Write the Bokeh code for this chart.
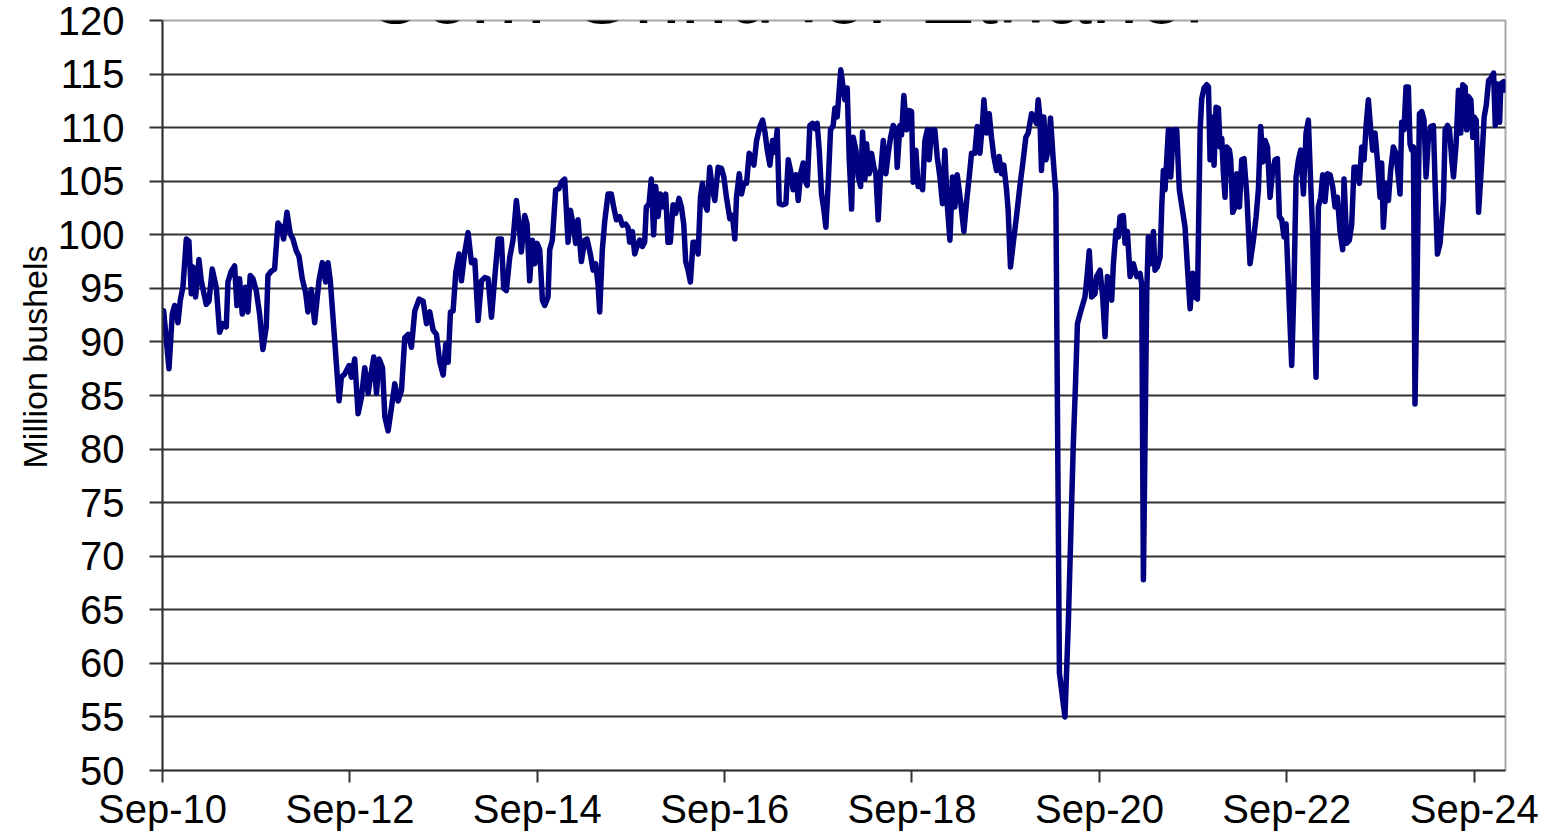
from datetime import datetime
from bokeh.plotting import figure
from bokeh.models import Range1d, FixedTicker, DatetimeTickFormatter, Label, Title
from bokeh.embed import file_html
from bokeh.resources import INLINE

# ---------------- DATA ----------------
# time as decimal year, corn grind for ethanol in million bushels (weekly)
t_2010_14 = [
    2010.678, 2010.735, 2010.770, 2010.795, 2010.831, 2010.856, 2010.884, 2010.920, 2010.948, 2010.973,
    2010.991, 2011.019, 2011.055, 2011.080, 2011.133, 2011.162, 2011.197, 2011.240, 2011.276, 2011.311,
    2011.347, 2011.365, 2011.400, 2011.436, 2011.461, 2011.489, 2011.518, 2011.553, 2011.578, 2011.603,
    2011.632, 2011.667, 2011.703, 2011.738, 2011.774, 2011.792, 2011.827, 2011.863, 2011.899, 2011.934,
    2011.959, 2011.995, 2012.030, 2012.059, 2012.094, 2012.123, 2012.158, 2012.194, 2012.219, 2012.255,
    2012.290, 2012.336, 2012.372, 2012.408, 2012.432, 2012.457, 2012.504, 2012.550, 2012.575, 2012.610,
    2012.657, 2012.682, 2012.717, 2012.753, 2012.788, 2012.824, 2012.860, 2012.885, 2012.920, 2012.949,
    2012.977, 2013.013, 2013.038, 2013.073, 2013.109, 2013.144, 2013.180, 2013.216, 2013.251, 2013.287,
    2013.322, 2013.358, 2013.404, 2013.447, 2013.483, 2013.518, 2013.554, 2013.589, 2013.625, 2013.661,
    2013.689, 2013.714, 2013.739, 2013.767, 2013.796, 2013.831, 2013.856, 2013.892, 2013.927, 2013.963,
    2013.999, 2014.034, 2014.070, 2014.105, 2014.141, 2014.177, 2014.212, 2014.248,
]
v_2010_14 = [
    92.9, 87.5, 92.6, 93.4, 91.8, 93.9, 95.1, 99.6, 99.4, 94.5,
    97.0, 94.2, 97.7, 95.7, 93.5, 93.8, 96.8, 95.1, 90.9, 91.7,
    91.4, 95.6, 96.6, 97.1, 93.4, 95.9, 92.6, 95.1, 92.8, 96.2,
    95.9, 94.8, 92.6, 89.3, 91.4, 96.2, 96.6, 96.8, 101.1, 100.7,
    99.6, 102.1, 100.1, 99.6, 98.5, 98.0, 95.9, 94.6, 92.8, 94.9,
    91.8, 95.7, 97.4, 95.6, 97.4, 95.7, 90.1, 84.5, 86.7, 87.0,
    87.8, 86.7, 88.4, 83.3, 84.8, 87.6, 85.2, 86.7, 88.6, 85.2,
    88.4, 87.6, 83.0, 81.7, 83.9, 86.1, 84.5, 85.5, 90.4, 90.7,
    89.5, 92.9, 94.0, 93.8, 91.7, 92.8, 91.1, 90.7, 88.1, 86.9,
    89.8, 88.1, 92.8, 92.9, 96.5, 98.2, 95.7, 98.4, 100.2, 97.4,
    97.6, 92.0, 95.7, 96.0, 95.9, 92.3, 96.0, 99.6,
]

t_2014_17 = [
    2014.283, 2014.308, 2014.336, 2014.372, 2014.407, 2014.443, 2014.471, 2014.496, 2014.532, 2014.557,
    2014.585, 2014.614, 2014.639, 2014.664, 2014.692, 2014.721, 2014.745, 2014.781, 2014.799, 2014.827,
    2014.863, 2014.899, 2014.923, 2014.959, 2014.977, 2014.995, 2015.020, 2015.048, 2015.077, 2015.101,
    2015.137, 2015.173, 2015.198, 2015.233, 2015.262, 2015.290, 2015.315, 2015.333, 2015.361, 2015.386,
    2015.422, 2015.457, 2015.482, 2015.511, 2015.546, 2015.575, 2015.610, 2015.635, 2015.653, 2015.682,
    2015.707, 2015.731, 2015.760, 2015.788, 2015.813, 2015.831, 2015.860, 2015.884, 2015.909, 2015.931,
    2015.956, 2015.981, 2016.009, 2016.038, 2016.062, 2016.087, 2016.116, 2016.144, 2016.180, 2016.205,
    2016.230, 2016.251, 2016.276, 2016.301, 2016.329, 2016.358, 2016.383, 2016.408, 2016.429, 2016.454,
    2016.479, 2016.507, 2016.536, 2016.561, 2016.596, 2016.632, 2016.657, 2016.685, 2016.721, 2016.749,
    2016.774, 2016.792, 2016.821, 2016.845, 2016.870, 2016.899, 2016.927, 2016.952, 2016.977, 2017.006,
    2017.041, 2017.070, 2017.095, 2017.120, 2017.148, 2017.177, 2017.201, 2017.226, 2017.248, 2017.283,
    2017.319, 2017.344, 2017.369, 2017.397, 2017.426, 2017.451, 2017.476, 2017.504, 2017.522, 2017.547,
    2017.575, 2017.604, 2017.629, 2017.653, 2017.675, 2017.700, 2017.725, 2017.746, 2017.771, 2017.796,
    2017.824, 2017.842, 2017.867, 2017.905,
]
v_2014_17 = [
    99.6, 95.0, 94.8, 97.9, 99.5, 103.2, 101.0, 98.4, 101.8, 101.0,
    95.7, 99.5, 97.3, 99.2, 98.6, 93.9, 93.4, 94.2, 98.6, 99.5,
    104.2, 104.3, 104.9, 105.2, 102.3, 99.3, 102.3, 101.0, 99.2, 101.4,
    97.5, 99.5, 99.6, 98.2, 96.7, 97.3, 95.4, 92.8, 98.6, 101.2,
    103.8, 103.8, 102.6, 101.4, 101.7, 100.9, 101.0, 100.7, 99.3, 100.3,
    98.2, 98.9, 99.5, 98.9, 99.3, 102.6, 102.9, 105.2, 100.0, 104.5,
    101.7, 103.8, 102.6, 103.8, 99.3, 99.3, 102.8, 102.0, 103.4, 102.6,
    101.0, 97.5, 96.7, 95.6, 99.3, 99.3, 98.2, 103.5, 104.8, 102.9,
    102.3, 106.3, 104.2, 103.2, 106.3, 106.2, 105.4, 103.5, 101.5, 101.8,
    99.6, 103.5, 105.7, 103.8, 104.8, 104.8, 107.6, 107.3, 106.5, 108.8,
    110.1, 110.7, 109.6, 107.9, 106.5, 108.8, 107.7, 109.8, 102.9, 102.8,
    102.9, 107.0, 106.0, 104.2, 105.6, 103.2, 105.7, 106.7, 105.1, 104.6,
    110.2, 110.4, 109.9, 110.4, 107.9, 103.8, 102.3, 100.7, 104.8, 109.8,
    110.2, 111.8, 111.0, 115.4,
]

t_2017_20 = [
    2017.949, 2017.974, 2017.996, 2018.021, 2018.038, 2018.067, 2018.092, 2018.117, 2018.138, 2018.163,
    2018.181, 2018.209, 2018.234, 2018.259, 2018.280, 2018.305, 2018.330, 2018.359, 2018.387, 2018.412,
    2018.437, 2018.465, 2018.494, 2018.508, 2018.537, 2018.554, 2018.579, 2018.608, 2018.636, 2018.661,
    2018.679, 2018.707, 2018.732, 2018.757, 2018.779, 2018.804, 2018.829, 2018.850, 2018.875, 2018.910,
    2018.935, 2018.964, 2018.992, 2019.017, 2019.042, 2019.071, 2019.099, 2019.124, 2019.149, 2019.184,
    2019.220, 2019.249, 2019.277, 2019.302, 2019.337, 2019.362, 2019.391, 2019.419, 2019.434, 2019.462,
    2019.491, 2019.515, 2019.540, 2019.569, 2019.597, 2019.622, 2019.647, 2019.676, 2019.693, 2019.718,
    2019.747, 2019.782, 2019.818, 2019.854, 2019.882, 2019.907, 2019.943, 2019.968, 2019.996, 2020.014,
    2020.032, 2020.049, 2020.074, 2020.096, 2020.120, 2020.145, 2020.174, 2020.202,
]
v_2017_20 = [
    112.6, 113.7, 107.0, 102.4, 109.1, 107.9, 105.4, 104.5, 109.6, 105.2,
    108.5, 105.7, 107.6, 106.3, 105.7, 101.4, 105.7, 108.8, 105.7, 107.6,
    109.1, 110.2, 109.8, 106.3, 110.2, 109.3, 113.0, 109.8, 111.6, 111.5,
    104.9, 107.9, 104.5, 104.8, 104.2, 108.8, 109.8, 107.0, 109.8, 109.8,
    107.3, 105.4, 102.9, 107.9, 102.9, 99.5, 105.4, 102.6, 105.6, 103.2,
    100.3, 103.1, 105.4, 107.6, 107.6, 110.1, 107.6, 110.4, 112.6, 109.5,
    111.3, 109.1, 107.3, 106.0, 107.3, 105.7, 106.5, 104.2, 102.3, 97.0,
    99.2, 101.7, 104.5, 107.0, 109.1, 109.5, 111.3, 111.0, 110.4, 112.6,
    111.0, 106.0, 111.0, 107.0, 107.9, 110.9, 107.0, 103.8,
]

t_2020_covid = [2020.240, 2020.299, 2020.334, 2020.387, 2020.411, 2020.432]
v_2020_covid = [59.1, 55.0, 63.5, 80.2, 86.0, 91.7]

t_2020_21 = [
    2020.459, 2020.512, 2020.530, 2020.558, 2020.583, 2020.619, 2020.637, 2020.672, 2020.701, 2020.726,
    2020.751, 2020.779, 2020.797, 2020.815, 2020.843, 2020.868, 2020.886, 2020.921, 2020.939, 2020.964,
    2020.993, 2021.028, 2021.064, 2021.099, 2021.117, 2021.135, 2021.171, 2021.188, 2021.213, 2021.242,
    2021.259, 2021.284, 2021.313, 2021.331, 2021.348, 2021.366, 2021.402, 2021.427, 2021.455, 2021.491,
    2021.519,
]
v_2020_21 = [
    92.6, 94.2, 95.7, 98.5, 94.2, 94.5, 96.1, 96.7, 94.2, 90.5,
    96.1, 95.4, 93.9, 97.3, 100.4, 99.8, 101.7, 101.8, 99.2, 100.3,
    96.1, 97.3, 96.1, 96.4, 95.4, 67.8, 94.8, 99.8, 97.3, 100.3,
    96.7, 97.0, 97.9, 102.6, 106.0, 104.2, 109.8, 105.4, 109.8, 109.8,
    104.2,
]

t_2021_24 = [
    2021.580, 2021.605, 2021.634, 2021.662, 2021.687, 2021.712, 2021.741, 2021.758, 2021.783, 2021.812,
    2021.830, 2021.847, 2021.865, 2021.890, 2021.911, 2021.936, 2021.954, 2021.972, 2021.990, 2022.007,
    2022.025, 2022.054, 2022.068, 2022.089, 2022.114, 2022.132, 2022.161, 2022.185, 2022.210, 2022.239,
    2022.274, 2022.310, 2022.339, 2022.363, 2022.388, 2022.410, 2022.435, 2022.460, 2022.488, 2022.516,
    2022.541, 2022.566, 2022.588, 2022.613, 2022.637, 2022.659, 2022.684, 2022.719, 2022.744, 2022.766,
    2022.791, 2022.815, 2022.844, 2022.872, 2022.897, 2022.922, 2022.944, 2022.958, 2022.979, 2023.004,
    2023.029, 2023.050, 2023.075, 2023.100, 2023.129, 2023.157, 2023.182, 2023.207, 2023.235, 2023.264,
    2023.278, 2023.307, 2023.335, 2023.360, 2023.385, 2023.413, 2023.442, 2023.467, 2023.492, 2023.513,
    2023.538, 2023.563, 2023.584, 2023.609, 2023.634, 2023.663, 2023.680, 2023.698, 2023.727, 2023.752,
    2023.776, 2023.805, 2023.833, 2023.858, 2023.876, 2023.894, 2023.919, 2023.940, 2023.965, 2023.983,
    2024.001, 2024.019, 2024.036, 2024.061, 2024.083, 2024.108, 2024.132, 2024.154, 2024.179, 2024.204,
    2024.232, 2024.250, 2024.275, 2024.303, 2024.339, 2024.357, 2024.382, 2024.403, 2024.428, 2024.446,
    2024.474, 2024.499, 2024.524, 2024.545, 2024.570, 2024.588, 2024.606, 2024.631, 2024.652, 2024.666,
    2024.688, 2024.713, 2024.748, 2024.773, 2024.795, 2024.820, 2024.844, 2024.873, 2024.891, 2024.908,
    2024.937, 2024.951, 2024.980, 2024.995,
]
v_2021_24 = [
    100.7, 97.0, 93.1, 96.4, 94.2, 94.0, 109.8, 112.7, 113.7, 114.0,
    113.8, 107.0, 111.0, 106.5, 111.9, 111.8, 108.2, 109.0, 105.7, 103.5,
    108.2, 107.9, 107.0, 102.1, 102.6, 105.7, 102.6, 107.0, 107.1, 103.8,
    97.3, 99.5, 101.7, 104.2, 110.1, 106.8, 108.8, 108.2, 103.5, 106.0,
    107.0, 107.1, 101.7, 101.4, 99.8, 101.0, 95.4, 87.8, 95.4, 105.4,
    107.0, 107.9, 103.8, 109.5, 110.7, 104.8, 99.8, 94.2, 86.7, 102.6,
    103.5, 105.6, 103.1, 105.7, 105.6, 104.5, 102.6, 103.5, 100.4, 98.6,
    105.2, 99.2, 99.5, 101.0, 106.3, 106.3, 104.8, 108.2, 107.0, 110.1,
    112.6, 109.8, 107.9, 109.5, 107.0, 103.5, 106.7, 100.7, 104.8, 103.2,
    106.0, 108.2, 107.6, 105.4, 103.8, 110.5, 109.8, 113.8, 113.8, 108.5,
    107.9, 108.2, 84.2, 97.3, 111.3, 111.5, 110.7, 105.4, 109.1, 110.1,
    110.2, 104.8, 98.2, 99.2, 103.2, 109.8, 110.2, 109.8, 107.0, 105.4,
    108.5, 113.5, 109.5, 114.0, 113.8, 109.8, 112.9, 112.6, 109.1, 111.0,
    110.7, 102.1, 107.0, 111.0, 112.1, 114.4, 114.6, 115.1, 110.2, 114.1,
    110.5, 114.1, 114.3, 113.5,
]

x_tick_dates = ["2010-09-01", "2012-09-01", "2014-09-01", "2016-09-01",
                "2018-09-01", "2020-09-01", "2022-09-01", "2024-09-01"]
x_tick_labels = ["Sep-10", "Sep-12", "Sep-14", "Sep-16", "Sep-18", "Sep-20", "Sep-22", "Sep-24"]
y_ticks = [50, 55, 60, 65, 70, 75, 80, 85, 90, 95, 100, 105, 110, 115, 120]
y_grid = [55, 60, 65, 70, 75, 80, 85, 90, 95, 100, 105, 110, 115]
x_start, x_end = "2010-09-01", "2025-01-01"
title_text = "Corn Grind for Ethanol"
y_label_text = "Million bushels"

# ---------------- BUILD ----------------
def dec_to_dt(t):
    y = int(t)
    s = datetime(y, 1, 1)
    e = datetime(y + 1, 1, 1)
    return s + (e - s) * (t - y)


def to_ms(d):
    return (d - datetime(1970, 1, 1)).total_seconds() * 1000.0


times = t_2010_14 + t_2014_17 + t_2017_20 + t_2020_covid + t_2020_21 + t_2021_24
values = v_2010_14 + v_2014_17 + v_2017_20 + v_2020_covid + v_2020_21 + v_2021_24
dates = [dec_to_dt(t) for t in times]

FONT = "Liberation Sans"
GRID = "#333333"

p = figure(width=1551, height=833, x_axis_type="datetime",
           x_range=Range1d(datetime.fromisoformat(x_start), datetime.fromisoformat(x_end)),
           y_range=Range1d(50, 120),
           output_backend="svg", toolbar_location=None,
           min_border_left=162, min_border_right=46, min_border_top=20, min_border_bottom=62)
p.background_fill_color = "white"
p.border_fill_color = "white"
p.outline_line_color = "#a8a8a8"
p.outline_line_width = 2

p.xgrid.grid_line_color = None
p.ygrid.ticker = FixedTicker(ticks=y_grid)
p.ygrid.grid_line_color = GRID
p.ygrid.grid_line_width = 2

p.line(dates, values, line_color="#000080", line_width=5.5, line_join="round", line_cap="round")

# y axis
yax = p.yaxis[0]
yax.ticker = FixedTicker(ticks=y_ticks)
yax.axis_line_color = GRID
yax.axis_line_width = 2
yax.major_tick_line_color = GRID
yax.major_tick_line_width = 2
yax.major_tick_out = 13
yax.major_tick_in = 0
yax.minor_tick_line_color = None
yax.major_label_standoff = 25
yax.major_label_text_font = FONT
yax.major_label_text_font_size = "40px"
yax.major_label_text_color = "black"

# y axis title: a side title so that it can sit above the frame centre, as in the original
p.add_layout(Title(text=y_label_text, align="right", offset=225, vertical_align="middle",
                   standoff=0, text_font=FONT, text_font_size="34px",
                   text_font_style="normal", text_color="black"), "left")

# x axis
tick_ms = [to_ms(datetime.fromisoformat(d)) for d in x_tick_dates]
xax = p.xaxis[0]
xax.ticker = FixedTicker(ticks=tick_ms)
xax.formatter = DatetimeTickFormatter(years="%b-%y", months="%b-%y", days="%b-%y",
                                      hours="%b-%y", minutes="%b-%y")
xax.major_label_overrides = {ms: lab for ms, lab in zip(tick_ms, x_tick_labels)}
xax.axis_line_color = GRID
xax.axis_line_width = 2
xax.major_tick_line_color = GRID
xax.major_tick_line_width = 2
xax.major_tick_out = 12
xax.major_tick_in = 0
xax.minor_tick_line_color = None
xax.major_label_standoff = 4
xax.major_label_text_font = FONT
xax.major_label_text_font_size = "40px"
xax.major_label_text_color = "black"

# chart title, cut off by the top edge as in the original (only the lower strip shows)
p.add_layout(Label(x=621, y=730, x_units="screen", y_units="screen", text=title_text,
                   text_align="center", text_baseline="bottom",
                   text_font=FONT, text_font_size="84px", text_color="black"))

open("out.html", "w").write(file_html(p, INLINE))
